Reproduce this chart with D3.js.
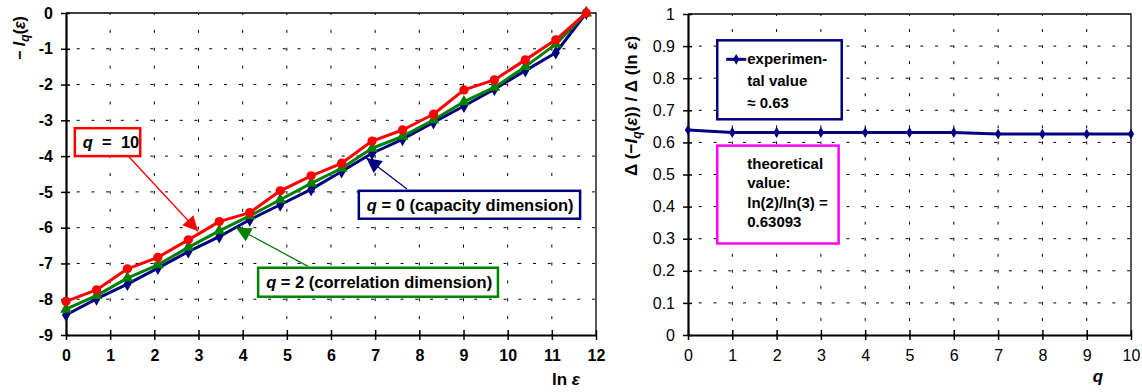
<!DOCTYPE html>
<html>
<head>
<meta charset="utf-8">
<script src="https://cdn.jsdelivr.net/npm/d3@7"></script>
<style>
  html, body { margin: 0; padding: 0; background: #fff; }
  svg { display: block; font-family: "Liberation Sans", Arial, sans-serif; }
</style>
</head>
<body>
<svg id="chart" width="1142" height="392"></svg>
<script>
// ---- data: Renyi information -I_q(eps) versus ln(eps) ----
const lnEps = [0, 0.69, 1.39, 2.08, 2.77, 3.47, 4.16, 4.85, 5.55, 6.24, 6.93, 7.62, 8.32, 9.01, 9.70, 10.40, 11.09, 11.78];
const infoQ0  = [-8.44, -7.99, -7.58, -7.13, -6.67, -6.25, -5.78, -5.36, -4.93, -4.43, -3.92, -3.53, -3.06, -2.60, -2.13, -1.61, -1.11, 0];
const infoQ2  = [-8.28, -7.90, -7.41, -7.04, -6.55, -6.09, -5.67, -5.22, -4.76, -4.34, -3.78, -3.45, -2.99, -2.48, -2.08, -1.50, -0.87, 0];
const infoQ10 = [-8.06, -7.74, -7.15, -6.83, -6.34, -5.83, -5.58, -4.97, -4.55, -4.20, -3.58, -3.27, -2.83, -2.15, -1.87, -1.31, -0.75, 0];
const leftXTicks = [0, 1, 2, 3, 4, 5, 6, 7, 8, 9, 10, 11, 12];
const leftYTicks = [-9, -8, -7, -6, -5, -4, -3, -2, -1, 0];

// ---- data: slope (generalised dimension) versus q ----
const qValues = [0, 1, 2, 3, 4, 5, 6, 7, 8, 9, 10];
const slopeValues = [0.639, 0.631, 0.631, 0.631, 0.631, 0.631, 0.631, 0.626, 0.626, 0.626, 0.626];
const rightXTicks = [0, 1, 2, 3, 4, 5, 6, 7, 8, 9, 10];
const rightYTicks = [0, 0.1, 0.2, 0.3, 0.4, 0.5, 0.6, 0.7, 0.8, 0.9, 1];

const RED = "#ff0000", GREEN = "#008000", NAVY = "#000080", MAGENTA = "#ff00ff";
const FONT = "Liberation Sans, Arial, sans-serif";

const svg = d3.select("#chart");
svg.append("rect").attr("width", 1142).attr("height", 392).attr("fill", "#fff");

// arrowhead markers
const defs = svg.append("defs");
[["arrRed", RED], ["arrGreen", GREEN], ["arrNavy", NAVY]].forEach(([id, c]) => {
  defs.append("marker").attr("id", id)
    .attr("viewBox", "0 0 10 10").attr("refX", 10).attr("refY", 5)
    .attr("markerWidth", 17).attr("markerHeight", 15).attr("markerUnits", "userSpaceOnUse")
    .attr("orient", "auto")
    .append("path").attr("d", "M0,0 L10,5 L0,10 Z").attr("fill", c);
});

function drawFrame(g, x, y, xTicks, yTicks, bold, fmt) {
  const [x0, x1] = x.range();
  const [y0, y1] = y.range(); // y0 bottom, y1 top
  const xUnit = Math.abs(x(xTicks[1]) - x(xTicks[0]));
  const yUnit = Math.abs(y(yTicks[1]) - y(yTicks[0]));
  // dotted grid
  g.append("g").selectAll("line").data(yTicks.slice(1, -1)).join("line")
    .attr("x1", x0).attr("x2", x1).attr("y1", d => y(d)).attr("y2", d => y(d))
    .attr("stroke", "#000").attr("stroke-width", 1)
    .attr("stroke-dasharray", `3,${(xUnit / 3 - 3).toFixed(2)}`)
    .attr("stroke-dashoffset", -(xUnit / 3 - 4));
  g.append("g").selectAll("line").data(xTicks.slice(1, -1)).join("line")
    .attr("x1", d => x(d)).attr("x2", d => x(d)).attr("y1", y0).attr("y2", y1)
    .attr("stroke", "#000").attr("stroke-width", 1)
    .attr("stroke-dasharray", `3,${(yUnit / 2 - 3).toFixed(2)}`)
    .attr("stroke-dashoffset", -(yUnit / 2 - 2));
  // top and right frame
  g.append("path").attr("d", `M${x0},${y1}H${x1}V${y0}`)
    .attr("fill", "none").attr("stroke", "#000").attr("stroke-width", 1.3);

  const fw = bold ? "bold" : "normal";
  const ax = g.append("g").attr("transform", `translate(0,${y0})`)
    .call(d3.axisBottom(x).tickValues(xTicks).tickSizeInner(5).tickSizeOuter(0).tickPadding(10).tickFormat(d => String(d)));
  ax.select(".domain").attr("stroke-width", 2.2);
  ax.selectAll(".tick line").attr("y1", -5).attr("stroke-width", 1.5);
  ax.selectAll("text").attr("font-size", 16).attr("font-weight", fw)
    .attr("font-family", FONT).attr("fill", "#000");

  const ay = g.append("g").attr("transform", `translate(${x0},0)`)
    .call(d3.axisLeft(y).tickValues(yTicks).tickSizeInner(5).tickSizeOuter(0).tickPadding(8).tickFormat(fmt));
  ay.select(".domain").attr("stroke-width", 2.2);
  ay.selectAll(".tick line").attr("x1", 4).attr("stroke-width", 1.5);
  ay.selectAll("text").attr("font-size", 16).attr("font-weight", fw)
    .attr("font-family", FONT).attr("fill", "#000");
}

// =================== left panel ===================
const xL = d3.scaleLinear().domain([0, 12]).range([66, 596]);
const yL = d3.scaleLinear().domain([-9, 0]).range([335, 13]);
const gL = svg.append("g");
drawFrame(gL, xL, yL, leftXTicks, leftYTicks, true, d => String(d));

const lineL = (vals) => d3.line().x((d, i) => xL(lnEps[i])).y(d => yL(d))(vals);
const seriesL = [
  { vals: infoQ0, color: NAVY, sym: d3.symbolDiamond, size: 55 },
  { vals: infoQ2, color: GREEN, sym: d3.symbolTriangle, size: 60 },
  { vals: infoQ10, color: RED, sym: d3.symbolCircle, size: 68 }
];
seriesL.forEach(s => {
  gL.append("path").attr("d", lineL(s.vals)).attr("fill", "none")
    .attr("stroke", s.color).attr("stroke-width", 3).attr("stroke-linejoin", "round");
  gL.append("g").selectAll("path").data(s.vals).join("path")
    .attr("transform", (d, i) => `translate(${xL(lnEps[i])},${yL(d)})`)
    .attr("d", d3.symbol(s.sym, s.size)).attr("fill", s.color);
});

// annotation call-outs (positions in data units)
function callout(g, x, y, box, color, parts, from, to, marker) {
  g.append("line")
    .attr("x1", x(from[0])).attr("y1", y(from[1])).attr("x2", x(to[0])).attr("y2", y(to[1]))
    .attr("stroke", color).attr("stroke-width", 1.3).attr("marker-end", `url(#${marker})`);
  const bx = x(box[0]), by = y(box[1]), bw = x(box[2]) - x(box[0]), bh = y(box[3]) - y(box[1]);
  g.append("rect").attr("x", bx).attr("y", by).attr("width", bw).attr("height", bh)
    .attr("fill", "#fff").attr("stroke", color).attr("stroke-width", 2.5);
  const t = g.append("text").attr("x", bx + 8).attr("y", by + bh / 2 + 6)
    .attr("font-size", 16.5).attr("font-weight", "bold").attr("fill", "#000")
    .attr("xml:space", "preserve");
  parts.forEach(p => t.append("tspan").attr("font-style", p.it ? "italic" : "normal").text(p.s));
}
callout(gL, xL, yL, [0.2, -3.22, 1.68, -4.0], RED,
  [{ s: "q", it: true }, { s: "  =  10" }], [1.35, -3.92], [2.99, -6.1], "arrRed");
callout(gL, xL, yL, [6.63, -4.97, 11.64, -5.75], NAVY,
  [{ s: "q", it: true }, { s: " = 0 (capacity dimension)" }], [7.72, -4.92], [6.8, -4.05], "arrNavy");
callout(gL, xL, yL, [4.35, -7.12, 9.78, -7.93], GREEN,
  [{ s: "q", it: true }, { s: " = 2 (correlation dimension)" }], [5.48, -7.08], [3.85, -6.0], "arrGreen");

// axis titles
const tyL = svg.append("text").attr("transform", "translate(25,38) rotate(-90)")
  .attr("text-anchor", "middle").attr("font-size", 16).attr("font-weight", "bold");
tyL.append("tspan").text("\u2212 ");
tyL.append("tspan").attr("font-style", "italic").text("I");
tyL.append("tspan").attr("font-style", "italic").attr("font-size", 12).attr("dy", 4).text("q");
tyL.append("tspan").attr("dy", -4).text("(");
tyL.append("tspan").attr("font-style", "italic").text("\u03b5");
tyL.append("tspan").text(")");

const txL = svg.append("text").attr("x", 566).attr("y", 385)
  .attr("text-anchor", "middle").attr("font-size", 17).attr("font-weight", "bold");
txL.append("tspan").text("ln ");
txL.append("tspan").attr("font-style", "italic").text("\u03b5");

// =================== right panel ===================
const xR = d3.scaleLinear().domain([0, 10]).range([688, 1131]);
const yR = d3.scaleLinear().domain([0, 1]).range([335, 14]);
const gR = svg.append("g");
drawFrame(gR, xR, yR, rightXTicks, rightYTicks, false, d => d3.format("")(+d.toFixed(1)));

gR.append("path")
  .attr("d", d3.line().x((d, i) => xR(qValues[i])).y(d => yR(d))(slopeValues))
  .attr("fill", "none").attr("stroke", NAVY).attr("stroke-width", 3);
gR.append("g").selectAll("path").data(slopeValues).join("path")
  .attr("transform", (d, i) => `translate(${xR(qValues[i])},${yR(d)})`)
  .attr("d", d3.symbol(d3.symbolDiamond, 34)).attr("fill", NAVY);

// legend box: experimental value
const lgX = xR(0.66), lgY = yR(0.918);
const lgW = xR(3.47) - xR(0.66), lgH = yR(0.672) - yR(0.918);
gR.append("rect").attr("x", lgX).attr("y", lgY).attr("width", lgW).attr("height", lgH)
  .attr("fill", "#fff").attr("stroke", NAVY).attr("stroke-width", 2.5);
gR.append("line").attr("x1", lgX + 9).attr("x2", lgX + 29).attr("y1", lgY + 19).attr("y2", lgY + 19)
  .attr("stroke", NAVY).attr("stroke-width", 3);
gR.append("path").attr("transform", `translate(${lgX + 19},${lgY + 19})`)
  .attr("d", d3.symbol(d3.symbolDiamond, 34)).attr("fill", NAVY);
const expLines = ["experimen-", "tal value", "\u2248 0.63"];
gR.append("g").selectAll("text").data(expLines).join("text")
  .attr("x", lgX + 30).attr("y", (d, i) => lgY + 24 + i * 22)
  .attr("font-size", 15).attr("font-weight", "bold").text(d => d);

// theory box
const thX = xR(0.66), thY = yR(0.59);
const thW = xR(3.4) - xR(0.66), thH = yR(0.285) - yR(0.59);
gR.append("rect").attr("x", thX).attr("y", thY).attr("width", thW).attr("height", thH)
  .attr("fill", "#fff").attr("stroke", MAGENTA).attr("stroke-width", 2.5);
const thLines = ["theoretical", "value:", "ln(2)/ln(3) =", "0.63093"];
gR.append("g").selectAll("text").data(thLines).join("text")
  .attr("x", thX + 30).attr("y", (d, i) => thY + 23 + i * 19.5)
  .attr("font-size", 15).attr("font-weight", "bold").text(d => d);

// axis titles
const tyR = svg.append("text").attr("transform", "translate(637,106) rotate(-90)")
  .attr("text-anchor", "middle").attr("font-size", 17).attr("font-weight", "bold")
  .attr("xml:space", "preserve");
tyR.append("tspan").text("\u0394 (\u2212");
tyR.append("tspan").attr("font-style", "italic").text("I");
tyR.append("tspan").attr("font-style", "italic").attr("font-size", 12).attr("dy", 4).text("q");
tyR.append("tspan").attr("dy", -4).text("(");
tyR.append("tspan").attr("font-style", "italic").text("\u03b5");
tyR.append("tspan").text(")) / \u0394 (ln ");
tyR.append("tspan").attr("font-style", "italic").text("\u03b5");
tyR.append("tspan").text(")");

svg.append("text").attr("x", 1098).attr("y", 382).attr("text-anchor", "middle")
  .attr("font-size", 17).attr("font-weight", "bold").attr("font-style", "italic").text("q");
</script>
</body>
</html>
